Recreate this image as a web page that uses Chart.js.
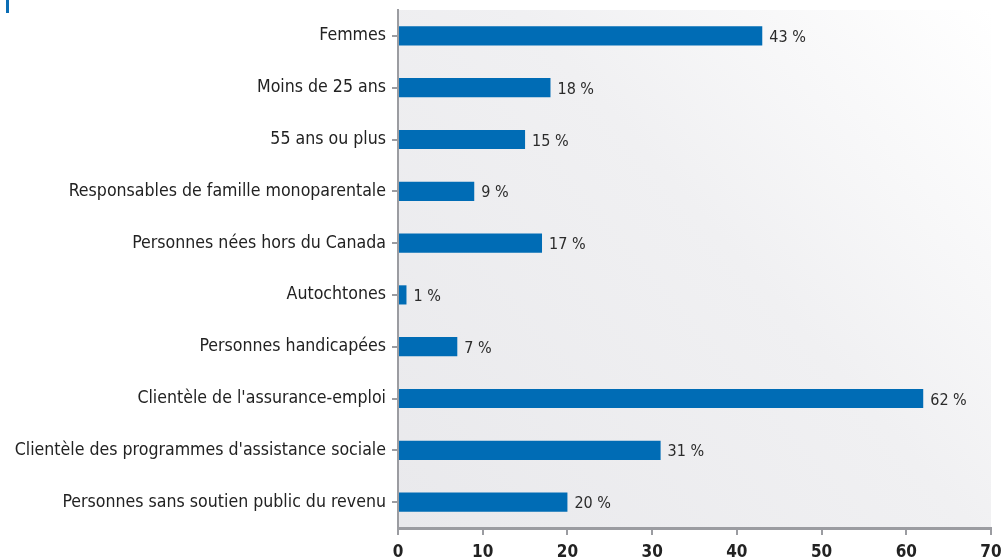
<!DOCTYPE html>
<html>
<head>
<meta charset="utf-8">
<script src="https://cdn.jsdelivr.net/npm/chart.js@4/dist/chart.umd.min.js"></script>
<style>
  body { margin: 0; background: #fff; }
  #wrap { position: relative; width: 1005px; height: 558px; }
  #mark { position: absolute; left: 6px; top: 0; width: 3px; height: 13px; background: #0a6db5; }
</style>
</head>
<body>
<div id="wrap">
  <div id="mark"></div>
  <canvas id="chart"></canvas>
</div>
<script>
const categories = [
  'Femmes',
  'Moins de 25 ans',
  '55 ans ou plus',
  'Responsables de famille monoparentale',
  'Personnes nées hors du Canada',
  'Autochtones',
  'Personnes handicapées',
  "Clientèle de l'assurance-emploi",
  "Clientèle des programmes d'assistance sociale",
  'Personnes sans soutien public du revenu'
];
const shares = [43, 18, 15, 9, 17, 1, 7, 62, 31, 20];
const xTicks = [0, 10, 20, 30, 40, 50, 60, 70];

const FONT = "'Liberation Sans Narrow', 'DejaVu Sans Condensed', sans-serif";

// Plot background: light grey on the left fading to white on the right
const plotBackground = {
  id: 'plotBackground',
  beforeDraw(chart) {
    const { ctx, chartArea: a } = chart;
    const g = ctx.createLinearGradient(a.left, a.bottom, a.right, a.top);
    g.addColorStop(0, '#e9e9ec');
    g.addColorStop(0.55, '#f0f0f2');
    g.addColorStop(1, '#ffffff');
    ctx.save();
    ctx.fillStyle = g;
    ctx.fillRect(a.left, a.top, a.right - a.left, a.bottom - a.top);
    ctx.restore();
  }
};

// "43 %" labels right of each bar
const valueLabels = {
  id: 'valueLabels',
  afterDatasetsDraw(chart) {
    const { ctx } = chart;
    const meta = chart.getDatasetMeta(0);
    ctx.save();
    ctx.font = '16px ' + FONT;
    ctx.fillStyle = '#2b2b2b';
    ctx.textBaseline = 'middle';
    meta.data.forEach((bar, i) => {
      ctx.fillText(shares[i] + ' %', bar.x + 7, bar.y + 2);
    });
    ctx.restore();
  }
};

new Chart(document.getElementById('chart'), {
  type: 'bar',
  data: {
    labels: categories,
    datasets: [{
      data: shares,
      backgroundColor: '#006cb5',
      borderWidth: 0,
      barPercentage: 0.37,
      categoryPercentage: 1
    }]
  },
  options: {
    indexAxis: 'y',
    responsive: true,
    maintainAspectRatio: false,
    animation: false,
    layout: { padding: { top: 10, right: 14, bottom: 0, left: 0 } },
    plugins: { legend: { display: false }, tooltip: { enabled: false } },
    scales: {
      y: {
        afterFit(scale) { scale.width = 398; scale.paddingTop = 0; scale.paddingBottom = 0; },
        border: { color: '#9b9ca1', width: 2 },
        grid: { offset: false, drawOnChartArea: false, color: '#9b9ca1', tickLength: 6, lineWidth: 2 },
        ticks: { color: '#222', padding: 6, font: { family: FONT, size: 17.6 } }
      },
      x: {
        min: 0,
        max: 70,
        afterBuildTicks(scale) { scale.ticks = xTicks.map(v => ({ value: v })); },
        afterFit(scale) { scale.height = 30; scale.paddingLeft = 0; scale.paddingRight = 0; },
        border: { color: '#9b9ca1', width: 3 },
        grid: { drawOnChartArea: false, color: '#9b9ca1', tickLength: 7, lineWidth: 2 },
        ticks: { color: '#222', padding: 7, font: { family: FONT, size: 17, weight: 'bold' } }
      }
    }
  },
  plugins: [plotBackground, valueLabels]
});
</script>
</body>
</html>
